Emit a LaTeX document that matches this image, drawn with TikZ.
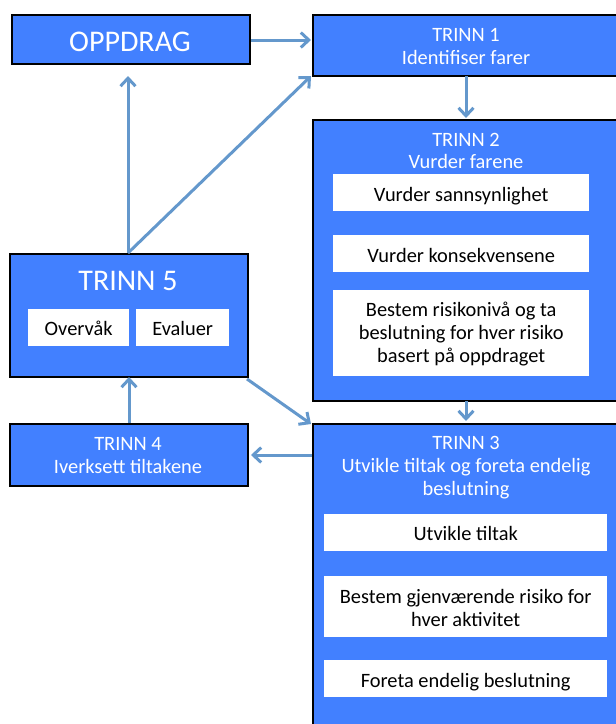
\documentclass[tikz,border=0pt]{standalone}
\usepackage{fontspec}
\setmainfont{Carlito}
\usetikzlibrary{arrows.meta}
\definecolor{stepblue}{RGB}{66,128,255}
\definecolor{flowblue}{RGB}{100,152,204}
\begin{document}
\begin{tikzpicture}[x=1pt,y=-1pt,
  stepbox/.style={draw=black,line width=2pt,fill=stepblue,inner sep=0pt,anchor=north west},
  taskbox/.style={fill=white,inner sep=0pt,anchor=north west},
  title/.style={text=white,inner sep=0pt,anchor=base,font=\fontsize{20.4}{23}\selectfont},
  bigtitle/.style={text=white,inner sep=0pt,anchor=base,font=\fontsize{30}{34}\selectfont},
  tasktext/.style={text=black,inner sep=0pt,anchor=base,font=\fontsize{20.4}{23}\selectfont},
  flow/.style={draw=flowblue,line width=3pt,-{Straight Barb[length=8pt,width=15pt]}}]
\useasboundingbox (0,0) rectangle (616,724);
\clip (0,0) rectangle (616,724);

% main step boxes
\node[stepbox,minimum width=238pt,minimum height=49pt] (opp) at (11,14) {};
\node[stepbox,minimum width=310pt,minimum height=61pt] (t1) at (312,14) {};
\node[stepbox,minimum width=310pt,minimum height=281pt] (t2) at (312,119) {};
\node[stepbox,minimum width=310pt,minimum height=320pt] (t3) at (312,423) {};
\node[stepbox,minimum width=238pt,minimum height=123pt] (t5) at (9,253) {};
\node[stepbox,minimum width=238pt,minimum height=62pt] (t4) at (9,423) {};

% titles
\node[bigtitle] (oppt) at (130,51) {OPPDRAG};
\node[title] (t1a) at (466,41) {TRINN 1};
\node[title] (t1b) at (466,64) {Identifiser farer};
\node[title] (t2a) at (466,146) {TRINN 2};
\node[title] (t2b) at (466,168) {Vurder farene};
\node[title] (t3a) at (466,449) {TRINN 3};
\node[title] (t3b) at (466,472) {Utvikle tiltak og foreta endelig};
\node[title] (t3c) at (466,495) {beslutning};
\node[bigtitle] (t5a) at (128,290) {TRINN 5};
\node[title] (t4a) at (128,450) {TRINN 4};
\node[title] (t4b) at (128,473) {Iverksett tiltakene};

% tasks inside TRINN 2
\node[taskbox,minimum width=256pt,minimum height=37pt] (a1) at (333,174) {};
\node[tasktext] at (a1.center |- 0,201) {Vurder sannsynlighet};
\node[taskbox,minimum width=256pt,minimum height=37pt] (a2) at (333,235) {};
\node[tasktext] at (a2.center |- 0,262) {Vurder konsekvensene};
\node[taskbox,minimum width=256pt,minimum height=86pt] (a3) at (333,290) {};
\node[tasktext] at (a3.center |- 0,316) {Bestem risikonivå og ta};
\node[tasktext] at (a3.center |- 0,339) {beslutning for hver risiko};
\node[tasktext] at (a3.center |- 0,362) {basert på oppdraget};

% tasks inside TRINN 3
\node[taskbox,minimum width=283pt,minimum height=37pt] (b1) at (324,514) {};
\node[tasktext] at (b1.center |- 0,540) {Utvikle tiltak};
\node[taskbox,minimum width=283pt,minimum height=61pt] (b2) at (324,576) {};
\node[tasktext] at (b2.center |- 0,603) {Bestem gjenværende risiko for};
\node[tasktext] at (b2.center |- 0,626) {hver aktivitet};
\node[taskbox,minimum width=283pt,minimum height=37pt] (b3) at (324,660) {};
\node[tasktext] at (b3.center |- 0,687) {Foreta endelig beslutning};

% tasks inside TRINN 5
\node[taskbox,minimum width=101pt,minimum height=37pt] (c1) at (28,309) {};
\node[tasktext] at (c1.center |- 0,335) {Overvåk};
\node[taskbox,minimum width=93pt,minimum height=37pt] (c2) at (136,309) {};
\node[tasktext] at (c2.center |- 0,335) {Evaluer};

% flow connectors
\coordinate (oppR) at (opp.east |- 0,40);
\coordinate (t1L) at (t1.west |- 0,40);
\draw[flow] (oppR) -- ([xshift=-1pt]t1L);
\coordinate (t5top) at (128,253);
\draw[flow] (t5top) -- (128,76);
\draw[flow] (t5top) -- ([xshift=-1pt,yshift=1pt]t1.south west);
\coordinate (t1bot) at (466,76);
\coordinate (t2top) at (466,118);
\draw[flow] (t1bot) -- (t2top);
\coordinate (t2bot) at (466,401);
\coordinate (t3top) at (466,421);
\draw[flow] (t2bot) -- (t3top);
\draw[flow] ([shift={(-2pt,-1pt)}]t5.south east) -- ([shift={(-1pt,-1pt)}]t3.north west);
\coordinate (t3L) at (t3.west |- 0,455);
\coordinate (t4R) at (t4.east |- 0,455);
\draw[flow] (t3L) -- ([xshift=2pt]t4R);
\draw[flow] (t4.north) -- ([yshift=1pt]t5.south);
\end{tikzpicture}
\end{document}
